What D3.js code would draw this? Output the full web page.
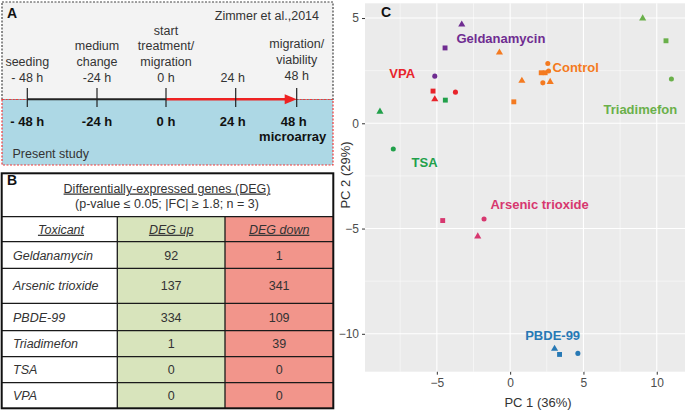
<!DOCTYPE html>
<html lang="en">
<meta charset="utf-8">
<style>
body { margin: 0; background: #fff; }
svg { font-family: "Liberation Sans", Arial, sans-serif; }
.panel-tag { font-weight: bold; font-size: 14px; fill: #111; }
</style>
<body>
<svg width="685" height="412"></svg>
<script src="https://d3js.org/d3.v7.min.js"></script>
<script>

// ---- data ----
var timePoints = [-48, -24, 0, 24, 48];
var upperLabels = [["seeding", "- 48 h"], ["medium", "change", "-24 h"],
  ["start", "treatment/", "migration", "0 h"], ["24 h"], ["migration/", "viability", "48 h"]];
var lowerLabels = ["- 48 h", "-24 h", "0 h", "24 h", "48 h"];

var tableHeader = ["Toxicant", "DEG up", "DEG down"];
var toxicants = ["Geldanamycin", "Arsenic trioxide", "PBDE-99", "Triadimefon", "TSA", "VPA"];
var degUp = [92, 137, 334, 1, 0, 0];
var degDown = [1, 341, 109, 39, 0, 0];

var groups = ["Control", "Geldanamycin", "VPA", "TSA", "Triadimefon", "Arsenic trioxide", "PBDE-99"];
var groupColors = ["#f47a20", "#6f2c91", "#e8242b", "#21a04a", "#6ab04a", "#d7376f", "#2779b5"];
var pcaGroup = ["Control", "Control", "Control", "Control", "Control", "Control", "Control", "Control", "Control",
  "Geldanamycin", "Geldanamycin", "Geldanamycin",
  "VPA", "VPA", "VPA",
  "TSA", "TSA", "TSA",
  "Triadimefon", "Triadimefon", "Triadimefon",
  "Arsenic trioxide", "Arsenic trioxide", "Arsenic trioxide",
  "PBDE-99", "PBDE-99", "PBDE-99"];
var pcaShape = ["triangle", "triangle", "triangle", "circle", "circle", "circle", "square", "square", "square",
  "triangle", "square", "circle",
  "square", "triangle", "circle",
  "triangle", "circle", "square",
  "triangle", "square", "circle",
  "square", "circle", "triangle",
  "triangle", "square", "circle"];
var pc1 = [-0.73, 0.8, 2.73, 2.57, 2.62, 2.23, 2.12, 2.39, 0.25,
  -3.3, -4.44, -5.14,
  -5.26, -5.14, -3.73,
  -8.88, -7.97, -4.42,
  9.04, 10.63, 11.0,
  -4.6, -1.78, -2.21,
  3.03, 3.37, 4.62];
var pc2 = [3.36, 2.02, 1.97, 2.84, 2.48, 1.92, 2.4, 2.4, 1.02,
  4.69, 3.58, 2.24,
  1.53, 1.14, 1.48,
  0.55, -1.22, 1.1,
  4.98, 3.92, 2.1,
  -4.62, -4.55, -5.37,
  -10.71, -10.98, -10.93];
// label anchors in PC units (centre of text)
var labelPC1 = [4.47, -0.63, -7.36, -5.84, 8.88, 2.01, 2.9];
var labelPC2 = [2.68, 4.06, 2.37, -1.85, 0.66, -3.87, -10.08];

var svg = d3.select("svg");

// ================= Panel A =================
var gA = svg.append("g");

gA.append("rect")
    .attr("x", 2).attr("y", 2).attr("width", 331).attr("height", 97.5)
    .attr("fill", "#f3f3f3")
    .attr("stroke", "#444").attr("stroke-width", 1.2)
    .attr("stroke-dasharray", "2,1.5");

gA.append("rect")
    .attr("x", 2).attr("y", 99.5).attr("width", 331).attr("height", 65.5)
    .attr("fill", "#add8e5")
    .attr("stroke", "#f03a3a").attr("stroke-width", 1.2)
    .attr("stroke-dasharray", "2,1.5");

gA.append("text").attr("class", "panel-tag").attr("x", 7).attr("y", 18).text("A");

gA.append("text")
    .attr("x", 319).attr("y", 19.5)
    .attr("text-anchor", "end")
    .attr("font-size", 12.5).attr("fill", "#333")
    .text("Zimmer et al.,2014");

var t = d3.scaleLinear()
    .domain(timePoints)
    .range([27.3, 97, 166, 235.7, 296.7]);

var lineY = 99.3;

gA.append("line")
    .attr("x1", t(-48)).attr("x2", t(0))
    .attr("y1", lineY).attr("y2", lineY)
    .attr("stroke", "#222").attr("stroke-width", 2);

gA.append("line")
    .attr("x1", t(0)).attr("x2", t(48) - 8)
    .attr("y1", lineY).attr("y2", lineY)
    .attr("stroke", "#ee2222").attr("stroke-width", 2.5);

gA.append("path")
    .attr("d", "M" + (t(48) - 12) + "," + (lineY - 5) + " L" + t(48) + "," + lineY + " L" + (t(48) - 12) + "," + (lineY + 5) + " Z")
    .attr("fill", "#ee2222");

gA.selectAll(".tick-a")
    .data(timePoints)
  .enter().append("line")
    .attr("class", "tick-a")
    .attr("x1", function(d) { return t(d); })
    .attr("x2", function(d) { return t(d); })
    .attr("y1", 88).attr("y2", 107)
    .attr("stroke", "#222").attr("stroke-width", 1.2);

upperLabels.forEach(function(lines, i) {
  var bottom = i === 4 ? 79.5 : 81.5;
  var txt = gA.append("text")
      .attr("text-anchor", "middle")
      .attr("font-size", 12.5).attr("fill", "#333");
  lines.forEach(function(s, j) {
    txt.append("tspan")
        .attr("x", t(timePoints[i]) + (i === 3 ? -3 : 0))
        .attr("y", bottom - (lines.length - 1 - j) * 15.6)
        .text(s);
  });
});

gA.selectAll(".lower-a")
    .data(lowerLabels)
  .enter().append("text")
    .attr("class", "lower-a")
    .attr("x", function(d, i) { return t(timePoints[i]) + (i === 3 ? -3 : i === 4 ? -3 : 0); })
    .attr("y", 126.3)
    .attr("text-anchor", "middle")
    .attr("font-size", 13).attr("font-weight", "bold").attr("fill", "#111")
    .text(function(d) { return d; });

gA.append("text")
    .attr("x", t(48) - 4).attr("y", 141.3)
    .attr("text-anchor", "middle")
    .attr("font-size", 13).attr("font-weight", "bold").attr("fill", "#111")
    .text("microarray");

gA.append("text")
    .attr("x", 12.5).attr("y", 157.5)
    .attr("font-size", 12.5).attr("fill", "#333")
    .text("Present study");

// ================= Panel B =================
var gB = svg.append("g");
var colEdges = [1.7, 117.3, 225, 333.3];
var rowEdges = [216.7, 241.7, 268.3, 303.3, 330.7, 356.7, 382.7, 408.3];
var tableTop = 173.3;
var colFill = ["#ffffff", "#d8e4bc", "#f2958b"];

// cell backgrounds
[0, 1, 2].forEach(function(c) {
  gB.append("rect")
      .attr("x", colEdges[c]).attr("y", rowEdges[0])
      .attr("width", colEdges[c + 1] - colEdges[c])
      .attr("height", rowEdges[rowEdges.length - 1] - rowEdges[0])
      .attr("fill", colFill[c]);
});

// grid lines
rowEdges.slice(0, -1).forEach(function(y) {
  gB.append("line").attr("x1", colEdges[0]).attr("x2", colEdges[3])
      .attr("y1", y).attr("y2", y)
      .attr("stroke", "#1a1a1a").attr("stroke-width", 1.3);
});
[1, 2].forEach(function(c) {
  gB.append("line").attr("x1", colEdges[c]).attr("x2", colEdges[c])
      .attr("y1", rowEdges[0]).attr("y2", rowEdges[rowEdges.length - 1])
      .attr("stroke", "#1a1a1a").attr("stroke-width", 1.3);
});
gB.append("rect")
    .attr("x", colEdges[0]).attr("y", tableTop)
    .attr("width", colEdges[3] - colEdges[0])
    .attr("height", rowEdges[rowEdges.length - 1] - tableTop)
    .attr("fill", "none").attr("stroke", "#111").attr("stroke-width", 2);

gB.append("text").attr("class", "panel-tag").attr("x", 7).attr("y", 185).text("B");

gB.append("text")
    .attr("x", 167).attr("y", 192.5)
    .attr("text-anchor", "middle")
    .attr("font-size", 12.5).attr("fill", "#333")
    .attr("text-decoration", "underline")
    .text("Differentially-expressed genes (DEG)");
gB.append("text")
    .attr("x", 167).attr("y", 207.5)
    .attr("text-anchor", "middle")
    .attr("font-size", 12.5).attr("fill", "#333")
    .text("(p-value \u2264  0.05; |FC| \u2265  1.8; n = 3)");

function colMid(c) { return (colEdges[c] + colEdges[c + 1]) / 2; }
function rowMid(r) { return (rowEdges[r] + rowEdges[r + 1]) / 2; }

tableHeader.forEach(function(h, c) {
  gB.append("text")
      .attr("x", colMid(c) + (c === 0 ? 1.5 : 0)).attr("y", rowMid(0))
      .attr("dy", "0.36em")
      .attr("text-anchor", "middle")
      .attr("font-size", 12.5).attr("font-style", "italic")
      .attr("text-decoration", "underline").attr("fill", "#333")
      .text(h);
});

toxicants.forEach(function(name, i) {
  gB.append("text")
      .attr("x", 13).attr("y", rowMid(i + 1)).attr("dy", "0.36em")
      .attr("font-size", 12.5).attr("font-style", "italic").attr("fill", "#333")
      .text(name);
  gB.append("text")
      .attr("x", colMid(1)).attr("y", rowMid(i + 1)).attr("dy", "0.36em")
      .attr("text-anchor", "middle").attr("font-size", 12.5).attr("fill", "#333")
      .text(degUp[i]);
  gB.append("text")
      .attr("x", colMid(2)).attr("y", rowMid(i + 1)).attr("dy", "0.36em")
      .attr("text-anchor", "middle").attr("font-size", 12.5).attr("fill", "#333")
      .text(degDown[i]);
});

// ================= Panel C =================
var gC = svg.append("g");
var plotLeft = 365, plotRight = 711, plotTop = 3.3, plotBottom = 371.7;

var x = d3.scaleLinear().domain([-9.9, 13.7]).range([plotLeft, plotRight]);
var y = d3.scaleLinear().domain([-11.8, 5.7]).range([plotBottom, plotTop]);
var color = d3.scaleOrdinal().domain(groups).range(groupColors);
var shapes = { circle: d3.symbolCircle, square: d3.symbolSquare, triangle: d3.symbolTriangle };
var sizes = { circle: 20, square: 24, triangle: 22 };

gC.append("rect")
    .attr("x", plotLeft).attr("y", plotTop)
    .attr("width", plotRight - plotLeft).attr("height", plotBottom - plotTop)
    .attr("fill", "#ebebeb");

var xMinor = [-7.5, -2.5, 2.5, 7.5, 12.5], yMinor = [-7.5, -2.5, 2.5];
gC.selectAll(".xminor").data(xMinor).enter().append("line")
    .attr("x1", x).attr("x2", x).attr("y1", plotTop).attr("y2", plotBottom)
    .attr("stroke", "#fff").attr("stroke-width", 0.5);
gC.selectAll(".yminor").data(yMinor).enter().append("line")
    .attr("y1", y).attr("y2", y).attr("x1", plotLeft).attr("x2", plotRight)
    .attr("stroke", "#fff").attr("stroke-width", 0.5);

var xAxis = gC.append("g")
    .attr("transform", "translate(0," + plotBottom + ")")
    .call(d3.axisBottom(x).tickValues([-5, 0, 5, 10]).tickSize(3).tickPadding(4));
var yAxis = gC.append("g")
    .attr("transform", "translate(" + plotLeft + ",0)")
    .call(d3.axisLeft(y).tickValues([-10, -5, 0, 5]).tickSize(3).tickPadding(3));

[xAxis, yAxis].forEach(function(a) {
  a.select(".domain").remove();
  a.selectAll("text").attr("font-size", 12).attr("fill", "#4d4d4d")
      .attr("font-family", "Liberation Sans, Arial, sans-serif");
  a.selectAll(".tick line").attr("stroke", "#333");
});

gC.selectAll(".xmajor").data([-5, 0, 5, 10]).enter().append("line")
    .attr("x1", x).attr("x2", x).attr("y1", plotTop).attr("y2", plotBottom)
    .attr("stroke", "#fff").attr("stroke-width", 1.1);
gC.selectAll(".ymajor").data([-10, -5, 0, 5]).enter().append("line")
    .attr("y1", y).attr("y2", y).attr("x1", plotLeft).attr("x2", plotRight)
    .attr("stroke", "#fff").attr("stroke-width", 1.1);

gC.selectAll(".pt")
    .data(pc1.map(function(v, i) { return { x: v, y: pc2[i], g: pcaGroup[i], s: pcaShape[i] }; }))
  .enter().append("path")
    .attr("class", "pt")
    .attr("transform", function(d) { return "translate(" + x(d.x) + "," + y(d.y) + ")"; })
    .attr("d", function(d) { return d3.symbol().type(shapes[d.s]).size(sizes[d.s])(); })
    .attr("fill", function(d) { return color(d.g); });

gC.selectAll(".grp-label")
    .data(groups)
  .enter().append("text")
    .attr("class", "grp-label")
    .attr("x", function(d, i) { return x(labelPC1[i]); })
    .attr("y", function(d, i) { return y(labelPC2[i]); })
    .attr("dy", "0.36em")
    .attr("text-anchor", "middle")
    .attr("font-size", 13).attr("font-weight", "bold")
    .attr("fill", function(d) { return color(d); })
    .text(function(d) { return d; });

gC.append("text").attr("class", "panel-tag").attr("x", 381).attr("y", 16.5).text("C");

gC.append("text")
    .attr("x", 538).attr("y", 407)
    .attr("text-anchor", "middle")
    .attr("font-size", 13).attr("fill", "#333")
    .text("PC 1 (36%)");

gC.append("text")
    .attr("transform", "translate(349.5,175) rotate(-90)")
    .attr("text-anchor", "middle")
    .attr("font-size", 13).attr("fill", "#333")
    .text("PC 2 (29%)");

</script>
</body>
</html>
